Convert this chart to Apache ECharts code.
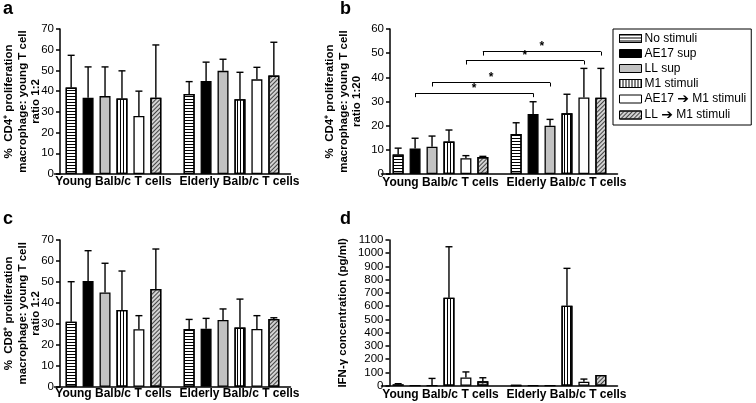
<!DOCTYPE html>
<html><head><meta charset="utf-8">
<script src="https://cdn.jsdelivr.net/npm/echarts@6/dist/echarts.min.js"></script>
<style>html,body{margin:0;padding:0;background:#fff}#c{width:756px;height:403px}</style>
</head><body><div id="c"></div>
<script>
// ---------- data ----------
const categories = ['Young Balb/c T cells', 'Elderly Balb/c T cells'];
const stimuli = ['No stimuli', 'AE17 sup', 'LL sup', 'M1 stimuli', 'AE17 ➔ M1 stimuli', 'LL ➔ M1 stimuli'];

// panel a: % CD4+ proliferation, ratio 1:2
const aYoungMean   = [41.7, 36.8, 37.6, 36.5, 28.0, 36.8];
const aYoungErr    = [15.6, 14.9, 14.1, 13.3, 12.0, 25.5];
const aElderlyMean = [38.6, 44.9, 49.8, 36.1, 45.7, 47.5];
const aElderlyErr  = [6.0, 9.1, 5.6, 13.0, 5.8, 16.1];
// panel b: % CD4+ proliferation, ratio 1:20
const bYoungMean   = [8.1, 10.6, 11.3, 13.4, 6.5, 7.0];
const bYoungErr    = [2.6, 4.2, 4.4, 4.8, 1.1, 0.3];
const bElderlyMean = [16.6, 24.8, 20.0, 25.1, 31.7, 31.6];
const bElderlyErr  = [4.6, 5.1, 2.6, 7.9, 12.0, 12.1];
// significance brackets in b: [stimulus index, bracket height]
const bBrackets = [[1, 33.4], [2, 37.8], [4, 46.9], [5, 50.6]];
// panel c: % CD8+ proliferation, ratio 1:2
const cYoungMean   = [31.0, 50.4, 45.0, 36.6, 27.4, 46.6];
const cYoungErr    = [19.1, 14.5, 13.9, 18.6, 6.5, 19.1];
const cElderlyMean = [27.5, 27.7, 31.8, 28.2, 27.5, 32.3];
const cElderlyErr  = [4.6, 4.9, 5.3, 13.6, 6.4, 0.6];
// panel d: IFN-gamma (pg/ml)
const dYoungMean   = [10, 0, 0, 664, 62, 33];
const dYoungErr    = [5, 0, 55, 385, 42, 27];
const dElderlyMean = [3, 2, 0, 604, 30, 81];
const dElderlyErr  = [0, 0, 0, 282, 20, 0];

const aTicks = [0, 70, 10], bTicks = [0, 60, 10], cTicks = [0, 70, 10], dTicks = [0, 1100, 100];

// ---------- style ----------
const FONT = '"Liberation Sans", Arial, Helvetica, sans-serif';
const BAR_W = 11, BAR_GAP = 0.54, PERIOD = BAR_W * (1 + BAR_GAP);
const barStyles = [
  {color: '#ffffff', decal: {symbol: 'rect', symbolSize: 1, dashArrayX: [1, 0], dashArrayY: [1, 2], color: '#000'}},
  {color: '#000000'},
  {color: '#c2c2c2'},
  {color: '#ffffff', decal: {symbol: 'rect', symbolSize: 1, dashArrayX: [1, 2], dashArrayY: [1, 0], color: '#000'}},
  {color: '#ffffff'},
  {color: '#d2d2d2', decal: {symbol: 'rect', symbolSize: 1, dashArrayX: [1, 0], dashArrayY: [1, 1.6], rotation: -Math.PI / 4, color: '#444'}}
];

const panels = [
  {ym: aYoungMean, ye: aYoungErr, em: aElderlyMean, ee: aElderlyErr, ticks: aTicks,
   grid: {left: 54.5, top: 29, width: 236, height: 145}, yOff: -5.5, nameGap: 17, lblMargin: 2,
   name: '%  CD4⁺ proliferation\nmacrophage: young T cell\nratio 1:2'},
  {ym: bYoungMean, ye: bYoungErr, em: bElderlyMean, ee: bElderlyErr, ticks: bTicks,
   grid: {left: 381.5, top: 29, width: 236, height: 145}, yOff: -8.5, nameGap: 26, lblMargin: 3,
   name: '%  CD4⁺ proliferation\nmacrophage: young T cell\nratio 1:20', brackets: bBrackets},
  {ym: cYoungMean, ye: cYoungErr, em: cElderlyMean, ee: cElderlyErr, ticks: cTicks,
   grid: {left: 54.5, top: 240, width: 236, height: 146.7}, yOff: -5.5, nameGap: 17, lblMargin: 1,
   name: '%  CD8⁺ proliferation\nmacrophage: young T cell\nratio 1:2'},
  {ym: dYoungMean, ye: dYoungErr, em: dElderlyMean, ee: dElderlyErr, ticks: dTicks,
   grid: {left: 381.5, top: 240, width: 236, height: 145.7}, yOff: -8, nameGap: 40, lblMargin: 3,
   name: 'IFN-γ concentration (pg/ml)'}
];

function errRender(params, api) {
  const cat = api.value(0), s = api.value(1), m = api.value(2), e = api.value(3);
  if (!(e > 0)) return null;
  const base = api.coord([cat, m]);
  const top = api.coord([cat, m + e]);
  const x = base[0] + (s - 2.5) * PERIOD;
  const st = {stroke: '#000', lineWidth: 1.4};
  return {type: 'group', children: [
    {type: 'line', shape: {x1: x, y1: base[1], x2: x, y2: top[1]}, style: st},
    {type: 'line', shape: {x1: x - 3.5, y1: top[1], x2: x + 3.5, y2: top[1]}, style: st}
  ]};
}

const grids = [], xAxes = [], yAxes = [], series = [];
panels.forEach((p, g) => {
  grids.push(Object.assign({outerBoundsMode: 'none', containLabel: false}, p.grid));
  xAxes.push({
    type: 'category', gridIndex: g, data: categories,
    axisLine: {show: true, lineStyle: {color: '#000', width: 1.5}},
    axisTick: {show: false},
    axisLabel: {
      interval: 0, margin: p.lblMargin, color: '#000',
      formatter: (v, i) => i === 1 ? '{e|' + v + '}' : '{y|' + v + '}',
      rich: {
        y: {fontFamily: FONT, fontSize: 12, fontWeight: 'bold', color: '#000'},
        e: {fontFamily: FONT, fontSize: 12, fontWeight: 'bold', color: '#000', padding: [0, 0, 0, 16]}
      }
    },
    splitLine: {show: false}
  });
  // value axis with ticks and labels
  yAxes.push({
    type: 'value', gridIndex: g, position: 'left', min: p.ticks[0], max: p.ticks[1], interval: p.ticks[2],
    offset: p.yOff,
    axisLine: {show: true, lineStyle: {color: '#000', width: 1.5}},
    axisTick: {show: true, length: 4, lineStyle: {color: '#000', width: 1.5}},
    axisLabel: {color: '#000', fontFamily: FONT, fontSize: 11.5, margin: 6, formatter: v => String(v)},
    splitLine: {show: false}
  });
  // companion axis carrying only the axis title
  yAxes.push({
    type: 'value', gridIndex: g, position: 'left', min: p.ticks[0], max: p.ticks[1], interval: p.ticks[2],
    offset: p.yOff,
    axisLine: {show: false}, axisTick: {show: false}, axisLabel: {show: false}, splitLine: {show: false},
    name: p.name, nameLocation: 'middle', nameRotate: 90, nameGap: p.nameGap,
    nameTextStyle: {fontFamily: FONT, fontSize: 11.5, fontWeight: 'bold', color: '#000', lineHeight: 13.5, align: 'center'}
  });
  const yIdx = g * 2;
  const errData = [];
  stimuli.forEach((name, i) => {
    const s = {
      type: 'bar', name: name, xAxisIndex: g, yAxisIndex: yIdx,
      data: [p.ym[i], p.em[i]],
      barWidth: BAR_W, barGap: (BAR_GAP * 100) + '%',
      itemStyle: Object.assign({borderColor: '#000', borderWidth: 1.3}, barStyles[i]),
      emphasis: {disabled: true}, silent: true, animation: false
    };
    if (p.brackets) {
      const br = p.brackets.find(b => b[0] === i);
      if (br) {
        const h = br[1], drop = 1.6;
        s.markLine = {
          silent: true, animation: false, symbol: ['none', 'none'],
          lineStyle: {color: '#000', width: 1, type: 'solid'},
          label: {show: false},
          emphasis: {disabled: true},
          data: [
            [{coord: [0, h], label: {show: true, formatter: '*', position: 'middle', distance: -1, color: '#000', fontSize: 12, fontWeight: 'bold', fontFamily: FONT}}, {coord: [1, h]}],
            [{coord: [0, h]}, {coord: [0, h - drop]}],
            [{coord: [1, h]}, {coord: [1, h - drop]}]
          ]
        };
      }
    }
    series.push(s);
    errData.push([0, i, p.ym[i], p.ye[i]]);
    errData.push([1, i, p.em[i], p.ee[i]]);
  });
  series.push({
    type: 'custom', xAxisIndex: g, yAxisIndex: yIdx, renderItem: errRender,
    data: errData, encode: {x: 0, y: 2}, z: 5, silent: true, clip: false, animation: false
  });
});

const chart = echarts.init(document.getElementById('c'), null, {renderer: 'canvas'});
chart.setOption({
  animation: false,
  backgroundColor: '#fff',
  textStyle: {fontFamily: FONT, color: '#000'},
  grid: grids, xAxis: xAxes, yAxis: yAxes, series: series,
  legend: {
    data: stimuli, orient: 'vertical', left: 613, top: 29,
    padding: [3, 5, 3, 6], borderColor: '#000', borderWidth: 1, backgroundColor: '#fff',
    icon: 'rect', itemWidth: 22, itemHeight: 8, itemGap: 2,
    itemStyle: {borderColor: '#000', borderWidth: 1},
    selectedMode: false,
    formatter: n => n.replace('➔', '{ar|➔}'),
    textStyle: {fontFamily: FONT, fontSize: 12, color: '#000', lineHeight: 13, padding: [0, 0, 0, -2],
      rich: {ar: {fontFamily: '"DejaVu Sans", sans-serif', fontSize: 14, fontWeight: 'bold', color: '#000', lineHeight: 13}}}
  },
  graphic: [
    {type: 'text', left: 3, top: 0, style: {text: 'a', font: 'bold 18px ' + FONT, fill: '#000'}},
    {type: 'text', left: 340, top: 0, style: {text: 'b', font: 'bold 18px ' + FONT, fill: '#000'}},
    {type: 'text', left: 3, top: 210, style: {text: 'c', font: 'bold 18px ' + FONT, fill: '#000'}},
    {type: 'text', left: 340, top: 210, style: {text: 'd', font: 'bold 18px ' + FONT, fill: '#000'}}
  ]
});
</script></body></html>
